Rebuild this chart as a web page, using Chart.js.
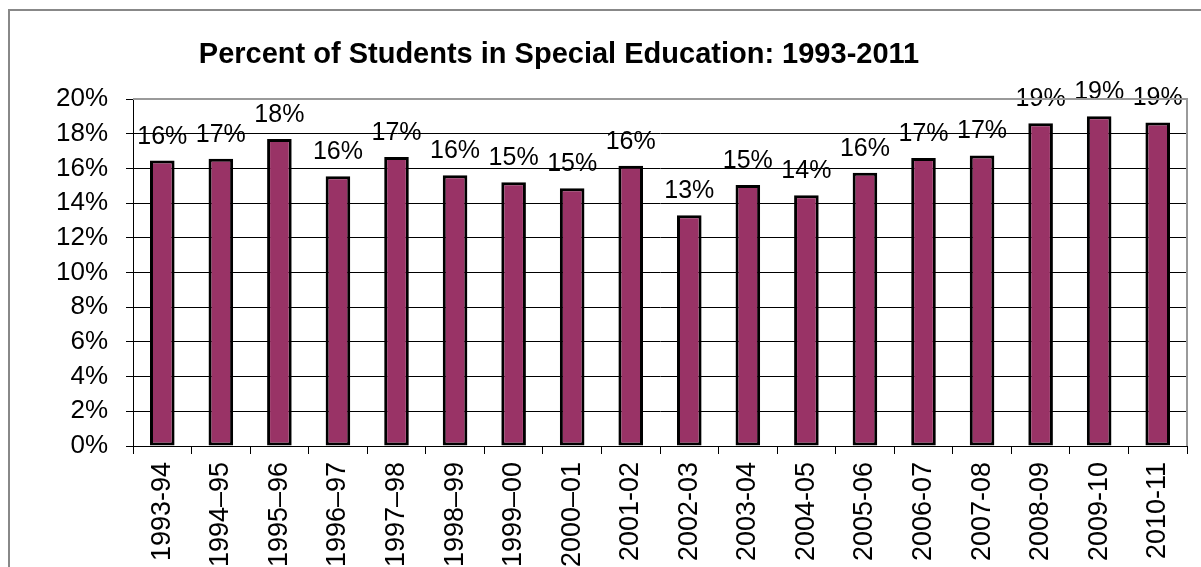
<!DOCTYPE html>
<html>
<head>
<meta charset="utf-8">
<script src="https://cdn.jsdelivr.net/npm/chart.js@4"></script>
<style>
  html, body { margin: 0; padding: 0; background: #fff; }
  #wrap { width: 1201px; height: 567px; }
</style>
</head>
<body>
<div id="wrap"><canvas id="myChart" width="1201" height="567"></canvas></div>
<script>
const titleText = 'Percent of Students in Special Education: 1993-2011';

const years = [
  '1993-94', '1994–95', '1995–96', '1996–97', '1997–98', '1998–99',
  '1999–00', '2000–01', '2001-02', '2002-03', '2003-04', '2004-05',
  '2005-06', '2006-07', '2007-08', '2008-09', '2009-10', '2010-11',
];

// percent of students
const percentSpecialEd = [
  16.45, 16.55, 17.7, 15.55, 16.65, 15.6,
  15.2, 14.85, 16.15, 13.3, 15.05, 14.45,
  15.75, 16.6, 16.75, 18.6, 19.0, 18.65,
];

const yTicks = [0, 2, 4, 6, 8, 10, 12, 14, 16, 18, 20];

const FONT = "'Liberation Sans', Arial, sans-serif";

// frame, title, plot border and value labels
const decorations = {
  id: 'decorations',
  afterDatasetsDraw(chart) {
    const ctx = chart.ctx;
    const meta = chart.getDatasetMeta(0);
    ctx.save();
    ctx.fillStyle = '#000';
    ctx.font = '25px ' + FONT;
    ctx.textAlign = 'center';
    ctx.textBaseline = 'alphabetic';
    meta.data.forEach((bar, i) => {
      const v = chart.data.datasets[0].data[i];
      ctx.fillText(Math.round(v) + '%', bar.x, bar.y - 17);
    });
    ctx.restore();
  },
  afterDraw(chart) {
    const ctx = chart.ctx;
    const area = chart.chartArea;
    ctx.save();
    // plot area border (top and right)
    ctx.strokeStyle = '#9a9a9a';
    ctx.lineWidth = 2;
    ctx.beginPath();
    ctx.moveTo(area.left, area.top);
    ctx.lineTo(area.right, area.top);
    ctx.lineTo(area.right, area.bottom);
    ctx.stroke();
    // outer chart frame
    ctx.strokeStyle = '#888';
    ctx.lineWidth = 2;
    ctx.strokeRect(9, 10, 1210, 580);
    // title
    ctx.fillStyle = '#000';
    ctx.font = 'bold 29px ' + FONT;
    ctx.textAlign = 'center';
    ctx.textBaseline = 'alphabetic';
    ctx.fillText(titleText, 559, 63);
    ctx.restore();
  },
};

const ctx = document.getElementById('myChart').getContext('2d');

// eslint-disable-next-line no-undef, no-unused-vars
const chart = new Chart(ctx, {
  type: 'bar',
  data: {
    labels: years,
    datasets: [
      {
        label: 'Percent',
        backgroundColor: '#993366',
        borderColor: '#000',
        borderWidth: 3,
        borderSkipped: false,
        data: percentSpecialEd,
        barPercentage: 0.42,
        categoryPercentage: 1,
      },
    ],
  },
  options: {
    responsive: false,
    animation: false,
    layout: { padding: { left: 0, top: 99, right: 14, bottom: 0 } },
    plugins: {
      legend: { display: false },
      title: { display: false },
      tooltip: { enabled: false },
    },
    scales: {
      x: {
        offset: true,
        grid: {
          offset: true,
          drawOnChartArea: false,
          drawTicks: true,
          tickLength: 8,
          color: '#000',
          lineWidth: 1,
        },
        border: { display: true, color: '#000', width: 1 },
        ticks: {
          autoSkip: false,
          maxRotation: 90,
          minRotation: 90,
          padding: 8,
          color: '#000',
          font: { family: FONT, size: 27 },
        },
        afterFit(scale) { scale.height = 121; },
      },
      y: {
        min: 0,
        max: 20,
        afterBuildTicks(scale) {
          scale.ticks = yTicks.map(v => ({ value: v }));
        },
        grid: {
          color: '#000',
          lineWidth: 1,
          tickLength: 7,
        },
        border: { display: true, color: '#000', width: 1 },
        ticks: {
          padding: 18,
          color: '#000',
          font: { family: FONT, size: 26 },
          callback: v => v + '%',
        },
        afterFit(scale) { scale.width = 133; },
      },
    },
  },
  plugins: [decorations],
});
</script>
</body>
</html>
